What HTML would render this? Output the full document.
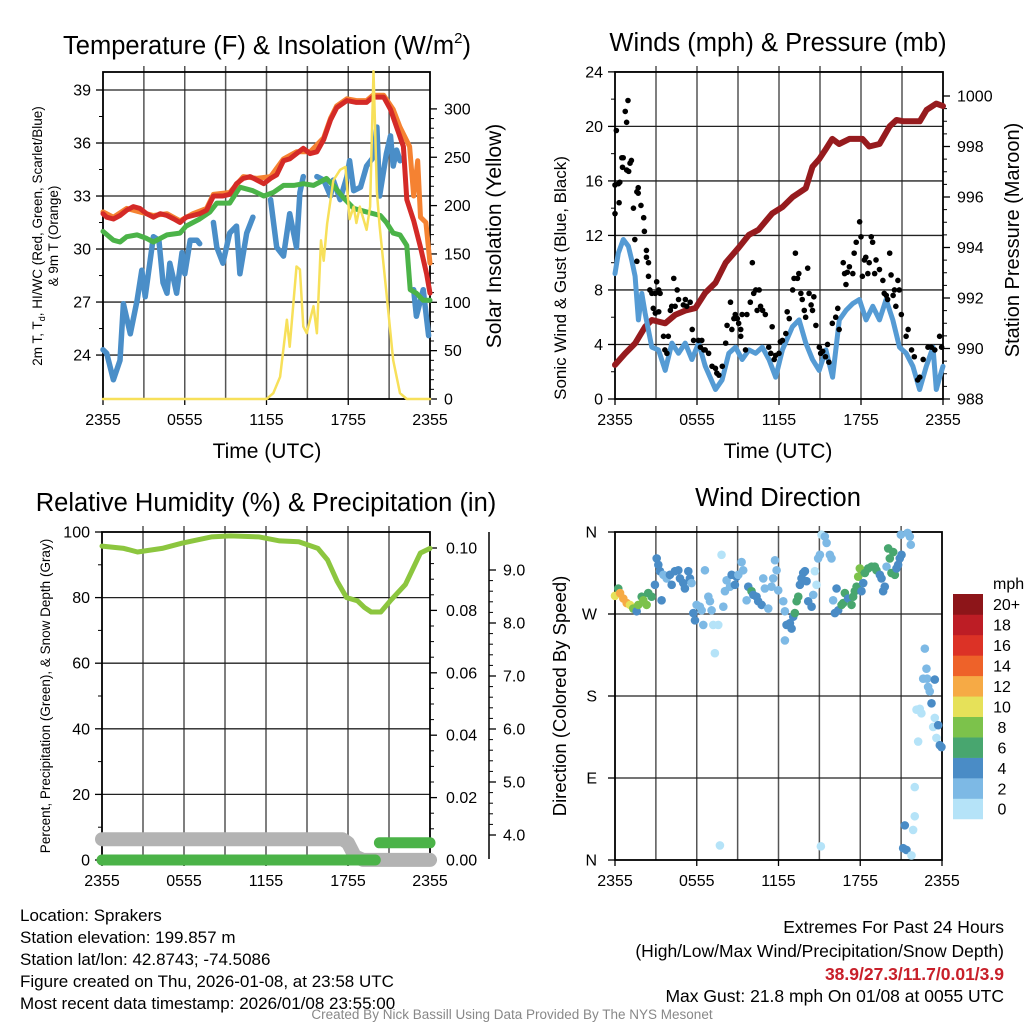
<!DOCTYPE html>
<html><head><meta charset="utf-8"><style>
html,body{margin:0;padding:0;background:#fff}
svg{display:block;font-family:"Liberation Sans",Arial,sans-serif}
</style></head><body>
<svg id="svg" width="1024" height="1024" viewBox="0 0 1024 1024" xmlns="http://www.w3.org/2000/svg">
<rect width="1024" height="1024" fill="#fff"/>
<g id="layer"></g>
<g fill="#000">
<text x="267" y="54" font-size="25.5" text-anchor="middle">Temperature (F) &amp; Insolation (W/m<tspan font-size="15" dy="-11">2</tspan><tspan dy="11">)</tspan></text>
<text x="778" y="51" font-size="25.5" text-anchor="middle">Winds (mph) &amp; Pressure (mb)</text>
<text x="266" y="511" font-size="25.5" text-anchor="middle">Relative Humidity (%) &amp; Precipitation (in)</text>
<text x="778" y="506" font-size="25.5" text-anchor="middle">Wind Direction</text>
</g>
<g fill="#000">
<text x="267" y="458" font-size="21" text-anchor="middle">Time (UTC)</text>
<text x="778" y="458" font-size="21" text-anchor="middle">Time (UTC)</text>
<text transform="translate(42,236) rotate(-90)" font-size="13.5" text-anchor="middle">2m T, T<tspan font-size="9" dy="3">d</tspan><tspan dy="-3">, HI/WC (Red, Green, Scarlet/Blue)</tspan></text>
<text transform="translate(58,236) rotate(-90)" font-size="13.5" text-anchor="middle">&amp; 9m T (Orange)</text>
<text transform="translate(501,236) rotate(-90)" font-size="21" text-anchor="middle">Solar Insolation (Yellow)</text>
<text transform="translate(566,278) rotate(-90)" font-size="17" text-anchor="middle">Sonic Wind &amp; Gust (Blue, Black)</text>
<text transform="translate(1019,240) rotate(-90)" font-size="20" text-anchor="middle">Station Pressure (Maroon)</text>
<text transform="translate(50,696) rotate(-90)" font-size="13.5" text-anchor="middle">Percent, Precipitation (Green), &amp; Snow Depth (Gray)</text>
<text transform="translate(566,696) rotate(-90)" font-size="18.5" text-anchor="middle">Direction (Colored By Speed)</text>
</g>
<g font-size="17" fill="#000">
<text x="20" y="921">Location: Sprakers</text>
<text x="20" y="943">Station elevation: 199.857 m</text>
<text x="20" y="965">Station lat/lon: 42.8743; -74.5086</text>
<text x="20" y="987">Figure created on Thu, 2026-01-08, at 23:58 UTC</text>
<text x="20" y="1009">Most recent data timestamp: 2026/01/08 23:55:00</text>
<text x="1004" y="933" text-anchor="end" font-size="17.5">Extremes For Past 24 Hours</text>
<text x="1004" y="957" text-anchor="end" font-size="17.5">(High/Low/Max Wind/Precipitation/Snow Depth)</text>
<text x="1004" y="980" text-anchor="end" fill="#c8202a" font-weight="bold" font-size="17.5">38.9/27.3/11.7/0.01/3.9</text>
<text x="1004" y="1002" text-anchor="end" font-size="17.5">Max Gust: 21.8 mph On 01/08 at 0055 UTC</text>
<text x="512" y="1019" text-anchor="middle" font-size="13.5" fill="#888">Created By Nick Bassill Using Data Provided By The NYS Mesonet</text>
</g>
</svg>
<script>
// ---- Temperature panel data (hours since 2355 UTC) ----
const redT=[0,0.27,0.76,1.25,1.74,2.23,2.7,3.2,3.7,4.2,4.7,5.2,5.65,6.1,6.6,7.1,7.6,8.1,8.8,9.3,9.8,10.3,10.8,11.3,11.8,12.3,12.75,13.25,13.7,14.2,14.7,15.2,15.7,16.2,16.7,17.15,17.9,18.6,19.35,19.8,20.6,21.1,21.55,22.05,22.3,22.8,23.3,23.75,24];
const redV=[32.0,31.8,31.7,31.9,32.2,32.4,32.3,32.0,31.8,32.0,31.9,31.7,31.5,31.8,31.9,32.0,32.2,33.0,33.0,33.1,33.7,34.0,34.1,33.9,33.7,34.0,34.2,35.0,35.1,35.4,35.7,35.4,35.5,36.2,37.3,38.0,38.4,38.3,38.3,38.6,38.6,37.9,36.9,35.8,32.8,31.6,30.1,28.6,27.5];
const orangeT=[0,0.76,1.74,2.7,3.7,4.7,5.65,6.6,7.6,8.1,9.3,10.3,11.3,12.3,13.25,14.2,15.2,16.2,16.7,17.15,17.9,18.6,19.35,19.8,20.6,21.3,21.8,22.5,22.8,23.1,23.3,23.7,24];
const orangeV=[32.1,31.8,32.3,32.1,31.9,32.0,31.6,32.0,32.3,33.1,33.2,34.1,34.0,34.1,35.1,35.5,35.5,36.3,37.4,38.1,38.5,38.4,38.4,38.7,38.7,37.9,36.9,35.8,33.0,35.0,31.8,31.5,29.2];
const greenT=[0,0.76,1.25,1.74,2.5,3.2,3.7,4.7,5.65,6.1,7.1,7.85,8.35,9.3,10.05,11.0,11.8,12.5,13.25,14.0,14.7,15.45,15.95,16.4,16.9,17.65,18.4,19.35,20.35,20.8,21.3,21.8,22.3,22.55,23.0,23.5,24];
const greenV=[31.0,30.5,30.4,30.7,30.8,30.6,30.4,30.8,30.9,31.3,31.7,32.1,32.6,32.6,33.5,33.3,33.0,33.2,33.6,33.6,33.7,33.6,33.8,34.0,33.6,32.9,32.3,32.1,31.9,31.5,30.9,30.8,30.2,27.7,27.5,27.1,27.1];
const blueT=[0,0.27,0.76,1.25,1.5,2.0,2.5,2.85,3.1,3.7,4.1,4.4,4.7,4.9,5.2,5.4,5.8,6.0,6.4,6.9,7.1,null,8.1,8.35,8.8,9.3,9.8,10.05,10.55,11.0,null,12.3,12.75,13.25,13.7,14.2,14.45,14.7,null,15.7,16.2,16.7,16.9,17.4,17.9,18.1,18.4,18.9,19.35,19.85,20.1,20.3,20.8,21.1,21.3,21.55,21.8,null,22.8,23.0,23.5,23.9];
const blueV=[24.3,24.1,22.6,23.7,26.9,25.2,27.1,28.8,27.3,30.7,30.5,28.1,27.5,29.2,28.2,27.5,29.8,28.6,30.5,30.5,30.3,null,31.5,30.1,29.2,30.9,31.3,28.6,30.9,31.8,null,32.8,30.1,29.6,32.0,30.1,33.2,34.1,null,34.1,33.9,33.0,33.9,32.8,34.1,35.0,33.3,33.5,34.7,35.2,36.9,33.0,35.4,36.4,34.7,35.6,35.0,null,27.7,26.2,27.7,25.1];
const solarT=[0,12.0,12.5,13.0,13.5,13.7,14.2,14.45,14.7,14.95,15.45,15.7,16.0,16.2,16.45,16.9,17.4,17.8,18.1,18.4,18.6,18.85,19.35,19.6,19.85,20.1,20.3,20.8,21.3,21.8,22.3,24];
const solarV=[0,0,6,23,82,54,137,134,75,68,96,68,164,143,181,226,237,240,186,199,182,199,175,199,339,214,179,110,40,6,0,0];
// ---- Wind panel data ----
const windT=[0,0.24,0.61,0.98,1.22,1.47,1.71,1.96,2.2,2.69,3.18,3.67,4.16,4.65,5.14,5.63,6.12,6.61,7.35,7.84,8.33,8.82,9.31,9.8,10.29,10.78,11.27,11.76,12.25,12.98,13.47,13.96,14.45,14.94,15.43,15.92,16.41,16.9,17.39,17.88,18.37,18.86,19.35,19.84,20.33,20.82,21.31,21.8,22.29,22.78,23.27,23.51,23.76,24];
const windV=[9.2,10.7,11.7,11.2,10.2,9.0,5.8,7.75,6.3,3.8,3.6,2.1,4.1,3.35,4.1,2.9,4.1,2.4,0.7,1.4,3.35,3.8,2.9,3.6,3.35,3.8,2.9,1.6,3.6,5.3,5.8,4.1,2.9,2.1,3.6,1.6,5.8,6.5,7.0,7.3,5.8,6.8,5.8,7.3,5.8,3.8,3.35,2.4,0.7,2.4,3.8,0.7,1.6,2.4];
const presT=[0,0.73,1.47,2.2,2.7,3.67,4.4,5.14,5.88,6.6,7.35,8.1,9.06,9.8,10.5,11.5,12.25,13.0,13.96,14.45,14.94,15.43,15.9,16.4,17.15,18.1,18.6,19.35,20.1,20.6,21.1,22.3,22.8,23.5,24];
const presV=[989.35,989.8,990.2,990.86,991.13,991.0,991.33,991.5,991.6,992.2,992.6,993.4,994.0,994.5,994.7,995.35,995.6,996.0,996.35,997.2,997.5,997.9,998.3,998.1,998.3,998.3,998.0,998.1,998.8,999.05,999.0,999.0,999.45,999.7,999.6];
const gustT=[0,0.1,0,0.25,0.35,0.3,0.5,0.6,0.55,0.75,0.85,0.95,0.85,1.1,1.2,1.0,1.35,1.6,1.7,1.7,1.9,2.1,2.15,1.45,1.6,2.3,2.3,2.45,2.45,2.55,2.7,2.95,3.05,3.2,2.8,2.95,3.2,3.3,3.55,3.65,3.8,3.9,4.05,4.15,4.3,4.4,4.55,4.65,5.0,5.15,5.25,5.5,5.65,5.75,6.1,6.25,6.35,6.5,6.6,6.85,7.1,7.35,7.45,7.6,7.85,8.1,8.2,8.45,8.55,8.7,8.8,8.95,9.05,9.2,9.2,9.3,9.55,9.65,9.9,10.05,10.15,10.3,10.4,10.55,10.65,10.8,11.0,11.25,11.4,11.5,11.65,11.75,12.0,12.1,12.25,12.5,12.6,12.75,13.0,13.1,13.2,13.35,13.45,13.6,13.7,13.85,13.95,14.1,14.2,14.35,14.45,14.55,14.7,14.95,15.05,15.2,15.4,15.55,15.65,15.9,16.15,16.3,16.4,16.7,16.8,16.9,17.0,17.15,17.4,17.5,17.65,17.9,18.0,18.1,18.25,18.35,18.5,18.6,18.75,18.85,19.0,19.1,19.35,19.6,19.7,19.85,19.95,20.1,20.2,20.35,20.45,20.55,20.7,20.8,20.95,21.3,21.45,21.7,21.9,22.15,22.3,22.55,22.9,23.15,23.4,23.75,23.9];
const gustV=[13.6,19.7,15.7,15.8,15.9,14.4,17.7,17.7,17.0,21.1,20.3,21.9,16.8,17.3,17.5,16.7,14.0,15.2,15.5,15.1,14.2,13.3,12.3,11.7,10.1,10.9,10.4,10.0,9.0,8.0,7.75,7.75,8.6,8.0,6.65,6.3,6.4,7.75,4.6,3.6,3.35,4.6,6.5,6.8,8.85,6.8,8.0,7.3,6.9,7.3,6.8,7.1,5.1,4.3,4.3,3.8,4.3,3.6,3.6,3.35,2.4,2.25,1.9,1.75,2.4,4.1,5.4,7.1,5.1,5.9,6.2,5.9,5.55,5.1,4.6,6.2,3.6,6.2,7.1,10.0,7.75,8.0,6.5,8.0,6.8,6.5,6.2,3.8,3.35,5.3,2.9,3.2,3.35,4.2,4.3,4.8,6.4,5.9,8.0,8.85,10.7,8.85,9.2,7.75,7.3,6.5,6.0,9.6,7.75,6.9,6.5,7.5,5.4,3.8,3.35,3.5,3.1,4.0,2.7,5.55,6.0,6.65,5.1,10.0,9.2,8.4,9.3,9.7,9.2,10.7,11.5,13.0,11.9,9.0,10.2,10.4,9.2,10.0,11.9,11.5,9.2,10.2,9.5,8.7,7.75,7.6,7.3,10.7,9.1,7.6,8.0,6.8,8.7,8.0,6.2,4.6,5.1,3.6,3.1,1.4,1.6,2.9,3.8,3.8,3.6,4.6,3.8];
// ---- RH / precip / snow ----
const rhT=[0,1.6,2.6,4.4,5.85,8.0,9.4,11.5,13.0,14.4,15.8,16.5,17.2,17.9,18.7,19.2,19.7,20.4,21.15,22.2,23.3,24];
const rhV=[95.7,95,93.9,95,96.6,98.5,98.8,98.5,97.3,97,95,91.5,85,80,79,77,75.6,75.6,79.3,84,93.6,95];
const precipT1=[0,20.0];
const precipV1=[0,0];
const precipT2=[20.3,24];
const precipV2=[0.0055,0.0055];
const snowT=[0,17.6,18.0,18.5,19.1,24];
const snowV=[3.92,3.92,3.85,3.6,3.53,3.53];
// ---- Wind direction ----
const dirT=[0,0.24,0.37,0.61,0.86,1.1,1.34,1.59,1.71,1.96,2.08,2.32,2.44,2.69,2.93,3.06,3.18,3.3,3.42,3.55,3.79,4.03,4.16,4.4,4.65,4.77,5.01,5.13,5.38,5.5,5.62,5.75,5.87,5.99,6.23,6.36,6.48,6.6,6.85,6.97,7.09,7.21,7.33,7.58,7.7,7.82,7.95,8.07,8.19,8.44,8.56,8.8,8.92,9.05,9.29,9.41,9.66,9.78,10.02,10.15,10.39,10.51,10.76,10.88,11.0,11.25,11.49,11.61,11.74,11.86,11.98,12.35,12.47,12.47,12.59,12.84,12.96,13.08,13.2,13.33,13.45,13.57,13.69,13.81,13.94,14.06,14.18,14.43,14.55,14.67,14.79,14.91,15.04,15.11,15.16,15.4,15.53,15.77,15.89,16.01,16.14,16.26,16.38,16.63,16.75,16.87,17.11,17.36,17.48,17.6,17.73,17.85,17.97,18.09,18.22,18.34,18.58,18.83,19.07,19.19,19.44,19.56,19.68,19.8,19.93,20.05,20.17,20.29,20.42,20.54,20.66,20.78,20.9,21.03,20.98,21.15,21.27,21.39,21.47,21.64,21.71,21.76,21.88,22.0,22.0,22.13,22.25,22.37,22.49,22.62,22.74,22.86,22.91,22.98,23.1,23.23,23.35,23.47,23.47,23.59,23.72,23.84,23.96];
const dirV=[290,298,293,287,282,280,276,273,280,289,285,280,293,289,302,331,324,317,285,313,309,313,302,317,318,309,304,298,317,309,304,271,263,280,278,274,258,318,289,284,274,258,227,258,16,335,278,295,307,300,313,302,311,313,327,318,285,300,295,291,289,284,280,309,298,276,300,309,329,318,296,284,273,241,258,260,254,267,271,284,289,302,309,315,317,306,284,278,291,317,302,331,335,15,357,355,348,335,331,285,271,298,274,280,282,293,287,280,289,295,300,311,320,295,304,315,320,322,322,318,313,309,295,300,322,342,331,315,338,313,320,324,331,335,357,13,38,11,359,355,346,5,33,48,80,165,130,166,161,199,232,210,199,190,185,172,146,156,198,134,148,126,124];
const dirS=[11,7,13,13,13,11,9,5,9,7,9,9,7,7,5,5,5,5,5,3,3,5,5,5,5,5,5,5,5,5,3,5,5,3,3,3,3,3,3,3,3,1,1,1,1,1,3,3,3,3,5,5,5,3,3,3,3,5,7,5,5,5,5,3,3,3,3,3,3,3,3,3,3,3,5,5,5,5,7,7,7,5,5,5,5,5,5,5,3,1,1,3,3,1,1,3,3,3,3,3,5,5,5,7,7,7,5,7,7,7,7,9,9,5,5,7,7,7,7,7,5,5,5,5,3,7,7,7,7,7,5,5,5,5,3,5,5,5,3,3,3,1,1,1,1,1,1,1,1,3,3,3,3,3,3,5,1,1,5,1,5,5,5];
const speedBins=["0","2","4","6","8","10","12","14","16","18","20+"];
const binColors=["#b5e3f8","#7db9e5","#4a8cc6","#48a66f","#7cc24b","#e6e159","#f6aa45","#ee6229","#dc3226","#bd1d25","#8d1519"];
const xTicks=["2355","0555","1155","1755","2355"];
const tempTicks=[24,27,30,33,36,39];
const solarTicks=[0,50,100,150,200,250,300];
const windTicks=[0,4,8,12,16,20,24];
const presTicks=[988,990,992,994,996,998,1000];
const rhTicks=[0,20,40,60,80,100];
const precipTicks=[0,0.02,0.04,0.06,0.08,0.10];
const snowTicks=[4,5,6,7,8,9];
const dirTicks=["N","E","S","W","N"];

const NS="http://www.w3.org/2000/svg";
const layer=document.getElementById('layer');
function mk(tag,attrs,parent){const e=document.createElementNS(NS,tag);for(const k in attrs)e.setAttribute(k,attrs[k]);(parent||layer).appendChild(e);return e;}
function txt(s,x,y,size,anchor,parent){const t=mk('text',{x:x,y:y,'font-size':size,'text-anchor':anchor,fill:'#000'},parent);t.textContent=s;return t;}
function pathD(ts,vs,xf,yf){let d='',pen=false;for(let i=0;i<ts.length;i++){if(ts[i]===null||vs[i]===null){pen=false;continue;}d+=(pen?'L':'M')+xf(ts[i]).toFixed(1)+','+yf(vs[i]).toFixed(1);pen=true;}return d;}

function frame(name,x0,x1,y0,y1,hLines){
  const g=mk('g',{});
  
  
  for(let h=3;h<24;h+=3){const x=x0+(x1-x0)*h/24;mk('line',{x1:x,x2:x,y1:y0-6,y2:y1,stroke:'#555','stroke-width':1.5},g);}
  hLines.forEach(y=>mk('line',{x1:x0,x2:x1,y1:y,y2:y,stroke:'#222','stroke-width':1.3},g));
  mk('rect',{x:x0,y:y0,width:x1-x0,height:y1-y0,fill:'none',stroke:'#000','stroke-width':1.8},g);
  const ga=mk('g',{});
  
  
  xTicks.forEach((s,i)=>{const x=x0+(x1-x0)*i/4;mk('line',{x1:x,x2:x,y1:y1,y2:y1+6,stroke:'#000','stroke-width':1.3},ga);txt(s,x,y1+26,16,'middle',ga);});
  return g;
}
function series(name,ts,vs,xf,yf,color,w,parent){
  const p=mk('path',{d:pathD(ts,vs,xf,yf),fill:'none',stroke:color,'stroke-width':w,'stroke-linejoin':'round','stroke-linecap':'round'},parent);
  
  
  return p;
}
function yAxis(name,ticks,yf,x,side,labelX,anchor,fmt,minor){
  const g=mk('g',{});
  
  
  ticks.forEach(v=>{const y=yf(v);mk('line',{x1:x,x2:x+side*7,y1:y,y2:y,stroke:'#000','stroke-width':1.3},g);txt(fmt(v),labelX,y+5.5,16,anchor,g);});
  if(minor){for(let i=0;i<ticks.length-1;i++){for(let k=1;k<minor;k++){const v=ticks[i]+(ticks[i+1]-ticks[i])*k/minor;const y=yf(v);mk('line',{x1:x,x2:x+side*4,y1:y,y2:y,stroke:'#000','stroke-width':1},g);}}}
  return g;
}

// ===== Panel 1 =====
(function(){
 const x0=103,x1=430,y0=72,y1=399;
 const X=t=>x0+(x1-x0)*t/24, Y=v=>90+(39-v)*17.67, YS=v=>399-v*0.967;
 frame('temp',x0,x1,y0,y1,tempTicks.map(Y));
 yAxis('temp-y-axis',tempTicks,Y,x0,-1,x0-12,'end',v=>String(v),2);
 yAxis('solar-y-axis',solarTicks,YS,x1,1,x1+14,'start',v=>String(v),5);
 series('blue-temp-line',blueT,blueV,X,Y,'#4a8ec8',5.5);
 series('green-temp-line',greenT,greenV,X,Y,'#4bb348',5);
 series('orange-temp-line',orangeT,orangeV,X,Y,'#f58232',5);
 series('red-temp-line',redT,redV,X,Y,'#d42a27',5);
 series('solar-line',solarT,solarV,X,YS,'#f7e05a',2.5);
})();
// ===== Panel 2 =====
(function(){
 const x0=615,x1=943,y0=72,y1=399;
 const X=t=>x0+(x1-x0)*t/24, Y=v=>399-v*13.63, YP=p=>399-(p-988)*25.25;
 frame('wind',x0,x1,y0,y1,windTicks.map(Y));
 yAxis('wind-y-axis',windTicks,Y,x0,-1,x0-12,'end',v=>String(v),2);
 yAxis('pressure-y-axis',presTicks,YP,x1,1,x1+14,'start',v=>String(v),4);
 series('pressure-line',presT,presV,X,YP,'#961b1e',6);
 series('wind-speed-line',windT,windV,X,Y,'#559bd4',5);
 const g=mk('g',{});
 
 
 for(let i=0;i<gustT.length;i++){const c=mk('circle',{cx:X(gustT[i]),cy:Y(gustV[i]),r:2.8,fill:'#000'},g);
  
  }
})();
// ===== Panel 3 =====
(function(){
 const x0=102,x1=430,y0=532,y1=860;
 const X=t=>x0+(x1-x0)*t/24, Y=v=>860-v*3.28, YP=p=>860-p*3120, YS=s=>835-(s-4)*53;
 frame('rh',x0,x1,y0,y1,[20,40,60,80].map(Y));
 yAxis('rh-y-axis',rhTicks,Y,x0,-1,x0-12,'end',v=>String(v),2);
 yAxis('precip-y-axis',precipTicks,YP,x1,1,x1+16,'start',v=>v.toFixed(2),4);
 const sa=yAxis('snow-y-axis',snowTicks,YS,489,1,503,'start',v=>v.toFixed(1),5);
 mk('line',{x1:489,x2:489,y1:532,y2:859,stroke:'#000','stroke-width':1.5},sa);
 series('snow-depth-line',snowT,snowV,X,YS,'#b3b3b3',14);
 series('precip-line',precipT1,precipV1,X,YP,'#4bb348',11);
 series('precip-line-2',precipT2,precipV2,X,YP,'#4bb348',11);
 series('rh-line',rhT,rhV,X,Y,'#8cc63f',5);
})();
// ===== Panel 4 =====
(function(){
 const x0=615,x1=942,y0=532,y1=860;
 const X=t=>x0+(x1-x0)*t/24, Y=d=>860-d*0.9111;
 frame('dir',x0,x1,y0,y1,[90,180,270].map(Y));
 const ga=mk('g',{});
 
 
 dirTicks.forEach((s,i)=>{const y=Y(i*90);mk('line',{x1:x0,x2:x0-7,y1:y,y2:y,stroke:'#000','stroke-width':1.3},ga);txt(s,x0-18,y+5.5,16,'end',ga);});
 const g=mk('g',{});
 
 
 for(let i=0;i<dirT.length;i++){const b=Math.min(10,Math.floor(dirS[i]/2));
  const c=mk('circle',{cx:X(dirT[i]),cy:Y(dirV[i]),r:4.3,fill:binColors[b]},g);
  
  }
 const lg=mk('g',{});
 
 
 txt('mph',993,589,16,'start',lg);
 const bh=20.45;
 for(let i=0;i<11;i++){const y=594+(10-i)*bh;
  const r=mk('rect',{x:953,y:y,width:30,height:bh+0.3,fill:binColors[i]},lg);
  
  
  txt(speedBins[i],i===10?993:1002,y+bh/2+6,16,i===10?'start':'middle',lg);}
})();
</script>
</body></html>
